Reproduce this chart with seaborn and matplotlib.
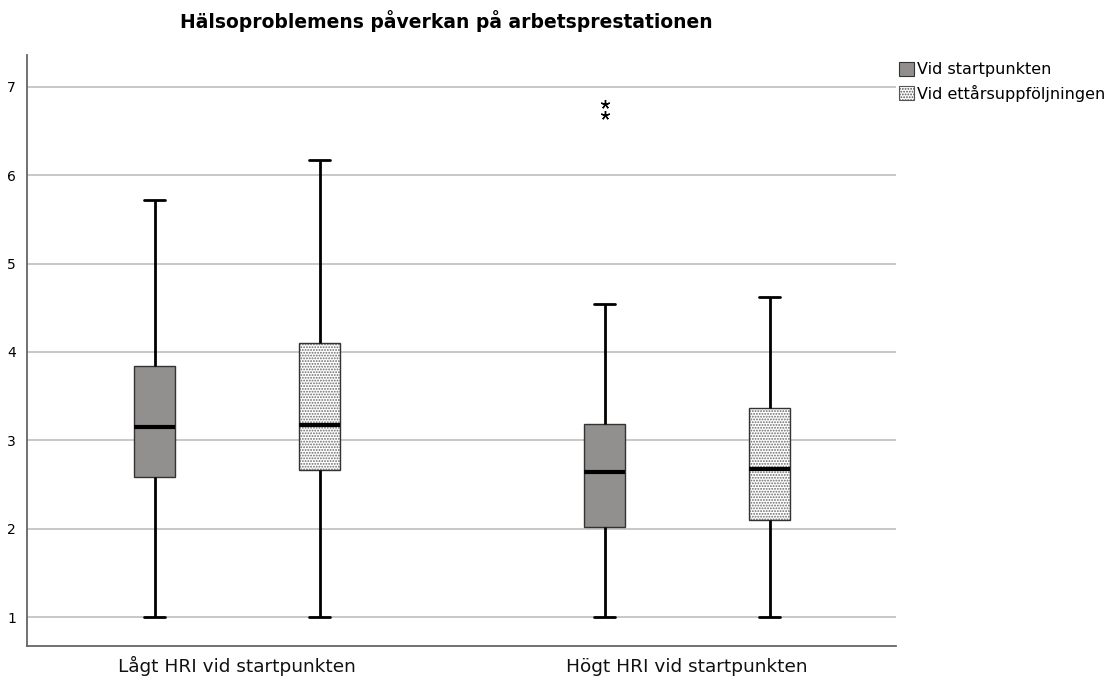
import numpy as np
import pandas as pd
import matplotlib
matplotlib.use("Agg")
import matplotlib.pyplot as plt
import seaborn as sns
from matplotlib.patches import Patch

# ---- data ----
groups = ["Lågt HRI vid startpunkten", "Högt HRI vid startpunkten"]
times = ["Vid startpunkten", "Vid ettårsuppföljningen"]
# five-number summaries: whisker low, Q1, median, Q3, whisker high
lo_start = [1.00, 2.59, 3.15, 3.84, 5.72]
lo_follow = [1.00, 2.66, 3.17, 4.10, 6.17]
hi_start = [1.00, 2.02, 2.64, 3.18, 4.54]
hi_follow = [1.00, 2.10, 2.68, 3.37, 4.62]
hi_start_outliers = [6.68, 6.81]
yticks = [1, 2, 3, 4, 5, 6, 7]
title = "Hälsoproblemens påverkan på arbetsprestationen"

rows = []
for g, t, vals in [(groups[0], times[0], lo_start), (groups[0], times[1], lo_follow),
                   (groups[1], times[0], hi_start), (groups[1], times[1], hi_follow)]:
    for v in vals:
        rows.append({"grupp": g, "tid": t, "värde": v})
df = pd.DataFrame(rows)

sns.set_theme(style="white")
plt.rcParams["font.family"] = ["DejaVu Sans"]
plt.rcParams["hatch.linewidth"] = 0.9
plt.rcParams["text.color"] = "black"
plt.rcParams["xtick.color"] = "black"
plt.rcParams["ytick.color"] = "black"

fig = plt.figure(figsize=(11.11, 6.8), dpi=100)
ax = fig.add_axes([27 / 1111, 1 - 646 / 680, (896 - 27) / 1111, (646 - 55) / 680])

ax.yaxis.grid(True, color="#c4c4c4", linewidth=1.3)
ax.set_axisbelow(True)

box_width = 0.733
box_gap = 0.75
start_color = "#928e8e"
sns.boxplot(data=df, x="grupp", y="värde", hue="tid", order=groups, hue_order=times,
            palette={times[0]: start_color, times[1]: "white"},
            whis=(0, 100), width=box_width, gap=box_gap, linecolor="black",
            linewidth=1.0, ax=ax, legend=False,
            boxprops=dict(linewidth=1.0, edgecolor="#333333"),
            whiskerprops=dict(linewidth=2.0, color="black"),
            capprops=dict(linewidth=2.0, color="black"),
            medianprops=dict(linewidth=3.0, color="black"))

for p in ax.patches:
    fc = p.get_facecolor()
    if fc[0] > 0.95 and fc[1] > 0.95:
        p.set_hatch("......")
        p._hatch_color = (0.42, 0.42, 0.42, 1.0)

# outliers for the high-HRI baseline box
x_out = groups.index(groups[1]) - box_width / 4
ax.plot([x_out] * len(hi_start_outliers), hi_start_outliers, linestyle="none",
        marker=(5, 2, 0), markersize=6.5, color="black", markeredgewidth=1.0)

ax.set_xlim(-0.467, 1.464)
ax.set_ylim(0.672, 7.36)
ax.set_yticks(yticks)
ax.set_yticklabels([str(v) for v in yticks], fontsize=10)
ax.set_xticks([0, 1])
ax.set_xticklabels(groups, fontsize=13.3, color="#111111")
for lab in ax.get_xticklabels():
    lab.set_verticalalignment("baseline")
ax.tick_params(axis="both", length=0)
ax.tick_params(axis="y", pad=8)
ax.tick_params(axis="x", pad=19)
ax.set_xlabel("")
ax.set_ylabel("")
for s in ["top", "right"]:
    ax.spines[s].set_visible(False)
for s in ["left", "bottom"]:
    ax.spines[s].set_color("#666666")
    ax.spines[s].set_linewidth(1.3)

fig.text(446 / 1111, 1 - 21 / 680, title, ha="center", va="center",
         fontsize=13.5, fontweight="bold", color="black")

handles = [Patch(facecolor=start_color, edgecolor="#333333", linewidth=0.8),
           Patch(facecolor="white", edgecolor="#555555", linewidth=0.8, hatch="......")]
fig.legend(handles, times, loc="upper left", bbox_to_anchor=(899 / 1111, 1 - 62 / 680),
           frameon=False, fontsize=11.5, handlelength=0.95, handleheight=0.95,
           handletextpad=0.2, labelspacing=0.45, borderaxespad=0, borderpad=0,
           labelcolor="black")

fig.savefig("out.png", dpi=100)
